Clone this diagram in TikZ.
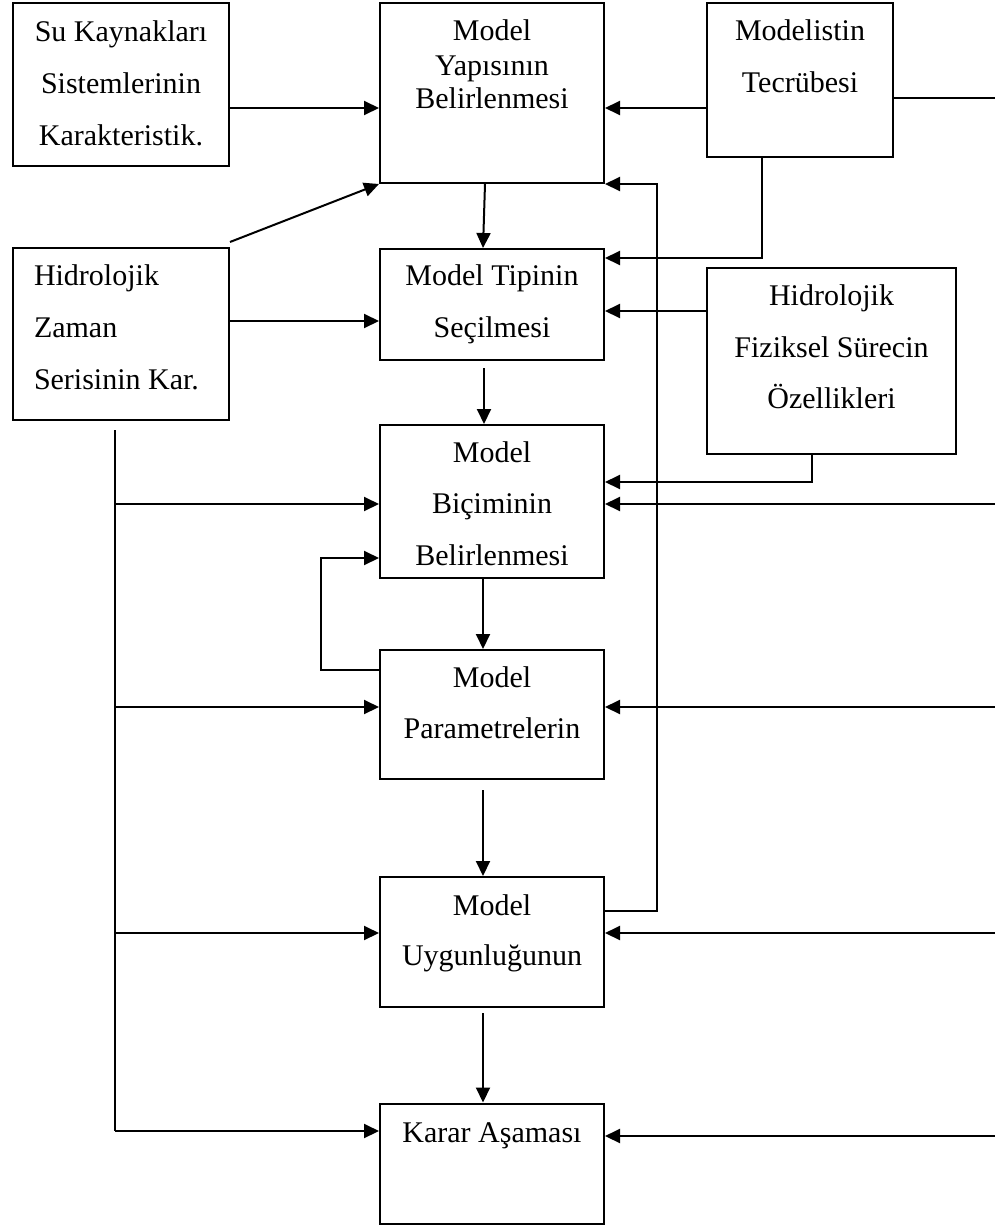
\documentclass[tikz,border=0pt]{standalone}
\usepackage{fontspec}
\setmainfont{Liberation Serif}
\usetikzlibrary{arrows.meta,calc}
\begin{document}
\begin{tikzpicture}[x=1pt,y=-1pt,
  line width=2pt,
  box/.style={draw, rectangle, inner sep=0pt, line width=2pt},
  txt/.style={anchor=base, inner sep=0pt, font=\fontsize{30}{36}\selectfont},
  txtl/.style={txt, anchor=base west},
  arr/.style={-{Triangle[length=15pt,width=14pt]}, line width=2pt},
  ln/.style={line width=2pt}]
\useasboundingbox (0,0) rectangle (995,1226);

% boxes
\node[box, minimum width=216pt, minimum height=163pt] (su)  at (121,84.5) {};
\node[box, minimum width=224pt, minimum height=180pt] (yap) at (492,93) {};
\node[box, minimum width=186pt, minimum height=154pt] (mod) at (800,80) {};
\node[box, minimum width=216pt, minimum height=172pt] (hzs) at (121,334) {};
\node[box, minimum width=224pt, minimum height=111pt] (tip) at (492,304.5) {};
\node[box, minimum width=249pt, minimum height=186pt] (fiz) at (831.5,361) {};
\node[box, minimum width=224pt, minimum height=153pt] (bic) at (492,501.5) {};
\node[box, minimum width=224pt, minimum height=129pt] (par) at (492,714.5) {};
\node[box, minimum width=224pt, minimum height=130pt] (uyg) at (492,942) {};
\node[box, minimum width=224pt, minimum height=120pt] (kar) at (492,1163.5) {};

% texts
\node[txt] (su1) at (121,41) {Su Kaynakları};
\node[txt] (su2) at (121,93) {Sistemlerinin};
\node[txt] (su3) at (121,145) {Karakteristik.};
\node[txt] (yap1) at (492,40) {Model};
\node[txt] (yap2) at (492,75) {Yapısının};
\node[txt] (yap3) at (492,108) {Belirlenmesi};
\node[txt] (mod1) at (800,40) {Modelistin};
\node[txt] (mod2) at (800,92) {Tecrübesi};
\node[txtl] (hzs1) at (33,285) {Hidrolojik};
\node[txtl] (hzs2) at (33,337) {Zaman};
\node[txtl] (hzs3) at (33,389) {Serisinin Kar.};
\node[txt] (tip1) at (492,285) {Model Tipinin};
\node[txt] (tip2) at (492,337) {Seçilmesi};
\node[txt] (fiz1) at (831.5,305) {Hidrolojik};
\node[txt] (fiz2) at (831.5,357) {Fiziksel Sürecin};
\node[txt] (fiz3) at (831.5,408) {Özellikleri};
\node[txt] (bic1) at (492,462) {Model};
\node[txt] (bic2) at (492,513) {Biçiminin};
\node[txt] (bic3) at (492,565) {Belirlenmesi};
\node[txt] (par1) at (492,687) {Model};
\node[txt] (par2) at (492,738) {Parametrelerin};
\node[txt] (uyg1) at (492,915) {Model};
\node[txt] (uyg2) at (492,965) {Uygunluğunun};
\node[txt] (kar1) at (492,1142) {Karar Aşaması};

% helper coordinates
\coordinate (r108) at (0,108);
\coordinate (r98) at (0,98);
\coordinate (r258) at (0,258);
\coordinate (r311) at (0,311);
\coordinate (r321) at (0,321);
\coordinate (r482) at (0,482);
\coordinate (r504) at (0,504);
\coordinate (r558) at (0,558);
\coordinate (r670) at (0,670);
\coordinate (r707) at (0,707);
\coordinate (r911) at (0,911);
\coordinate (r933) at (0,933);
\coordinate (r1131) at (0,1131);
\coordinate (r1136) at (0,1136);
\coordinate (cL) at (115,0);
\coordinate (cLoop) at (321,0);
\coordinate (cFb) at (657,0);
\coordinate (cMod) at (762,0);
\coordinate (cFiz) at (812,0);
\coordinate (cE) at (995,0);
\coordinate (busTop) at (115,430);

% top connectors
\draw[arr] (su.east |- r108) -- (yap.west |- r108);
\draw[arr] (mod.west |- r108) -- (yap.east |- r108);
\draw[ln] (mod.east |- r98) -- (cE |- r98);
\draw[arr] ($(hzs.north east)+(0,-5)$) -- (yap.south west);
\draw[arr] ($(yap.south)+(-7,0)$) -- ($(tip.north)+(-9,0)$);
\draw[arr] (cMod |- mod.south) -- (cMod |- r258) -- (tip.east |- r258);
\draw[arr] (hzs.east |- r321) -- (tip.west |- r321);
\draw[arr] (fiz.west |- r311) -- (tip.east |- r311);
\draw[arr] ($(tip.south)+(-8,7)$) -- ($(bic.north)+(-8,0)$);
\draw[arr] (cFiz |- fiz.south) -- (cFiz |- r482) -- (bic.east |- r482);

% feedback from Uygunlugunun to Yapisinin
\draw[arr] (uyg.east |- r911) -- (cFb |- r911) -- (cFb |- yap.south) -- (yap.south east);

% left bus
\draw[ln] (busTop) -- (cL |- r1131);
\draw[arr] (cL |- r504) -- (bic.west |- r504);
\draw[arr] (cL |- r707) -- (par.west |- r707);
\draw[arr] (cL |- r933) -- (uyg.west |- r933);
\draw[arr] (cL |- r1131) -- (kar.west |- r1131);

% right edge inputs
\draw[arr] (cE |- r504) -- (bic.east |- r504);
\draw[arr] (cE |- r707) -- (par.east |- r707);
\draw[arr] (cE |- r933) -- (uyg.east |- r933);
\draw[arr] (cE |- r1136) -- (kar.east |- r1136);

% main chain
\draw[arr] ($(bic.south)+(-9,0)$) -- ($(par.north)+(-9,0)$);
\draw[arr] (par.west |- r670) -- (cLoop |- r670) -- (cLoop |- r558) -- (bic.west |- r558);
\draw[arr] ($(par.south)+(-9,10)$) -- ($(uyg.north)+(-9,0)$);
\draw[arr] ($(uyg.south)+(-9,5)$) -- ($(kar.north)+(-9,0)$);
\end{tikzpicture}
\end{document}
